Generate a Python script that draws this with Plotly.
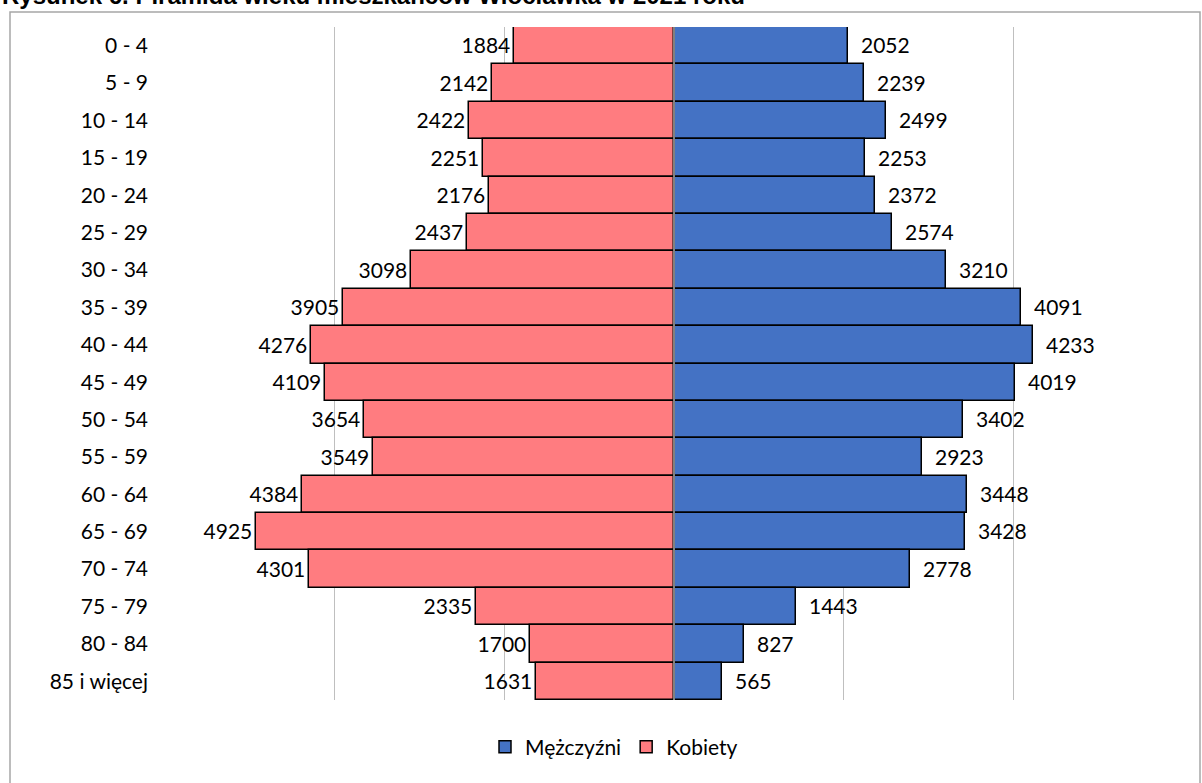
import plotly.graph_objects as go

age_groups = ["0 - 4", "5 - 9", "10 - 14", "15 - 19", "20 - 24", "25 - 29", "30 - 34",
              "35 - 39", "40 - 44", "45 - 49", "50 - 54", "55 - 59", "60 - 64", "65 - 69",
              "70 - 74", "75 - 79", "80 - 84", "85 i więcej"]
men = [2052, 2239, 2499, 2253, 2372, 2574, 3210, 4091, 4233, 4019, 3402, 2923, 3448, 3428,
       2778, 1443, 827, 565]
women = [1884, 2142, 2422, 2251, 2176, 2437, 3098, 3905, 4276, 4109, 3654, 3549, 4384, 4925,
         4301, 2335, 1700, 1631]

title_text = "Rysunek 6. Piramida wieku mieszkańców Włocławka w 2021 roku"

W, H = 1202, 783
L, R, T, B = 165, 19, 27, 83
pw, ph = W - L - R, H - T - B

def px_x(p):
    return (p - L) / pw

def px_y(p):
    return (H - B - p) / ph

font_family = "Lato, Calibri, Arial, sans-serif"
FS = 21

fig = go.Figure()
fig.add_trace(go.Bar(
    y=age_groups, x=men, orientation="h", name="Mężczyźni",
    marker=dict(color="#4472C4", line=dict(color="black", width=1.5)),
    text=[str(v) for v in men], texttemplate="\u00a0\u00a0%{text}", textposition="outside",
    textfont=dict(size=FS, color="black", family=font_family),
    cliponaxis=False,
))
fig.add_trace(go.Bar(
    y=age_groups, x=[-v for v in women], orientation="h", name="Kobiety",
    marker=dict(color="#FF7C80", line=dict(color="black", width=1.5)),
    text=[str(v) for v in women], textposition="outside",
    textfont=dict(size=FS, color="black", family=font_family),
    cliponaxis=False,
))

fig.update_layout(
    width=W, height=H,
    margin=dict(l=L, r=R, t=T, b=B),
    barmode="relative", bargap=0,
    plot_bgcolor="white", paper_bgcolor="white",
    font=dict(family=font_family, size=FS, color="black"),
    showlegend=True,
    legend=dict(orientation="h", x=px_x(614), xanchor="center", y=px_y(747), yanchor="middle",
                font=dict(size=FS, family=font_family), traceorder="normal",
                itemwidth=30),
    xaxis=dict(range=[-6000, 6000], dtick=2000, tick0=0, showticklabels=False,
               showgrid=True, gridcolor="#bfbfbf", gridwidth=1.3, zeroline=False,
               showline=False, fixedrange=True),
    yaxis=dict(autorange="reversed", showgrid=False, zeroline=False, showline=False,
               ticks="", ticklabelstandoff=16, tickfont=dict(size=FS, family=font_family)),
    shapes=[
        dict(type="line", xref="x", yref="paper", x0=0, x1=0, y0=0, y1=1,
             line=dict(color="#808080", width=2), layer="above"),
        dict(type="rect", xref="paper", yref="paper", x0=px_x(10), x1=px_x(1200),
             y0=px_y(790), y1=px_y(12), line=dict(color="#a6a6a6", width=1.5),
             layer="below"),
    ],
    annotations=[
        dict(text="<b>" + title_text + "</b>", xref="paper", yref="paper",
             x=px_x(0), xanchor="left", y=px_y(11), yanchor="bottom", showarrow=False,
             font=dict(family="Liberation Sans, Arial, sans-serif", size=24, color="black")),
    ],
)

fig.write_html("out.html", config={"displayModeBar": False},
               post_script="document.body.style.margin='0';document.body.style.overflow='hidden';")
